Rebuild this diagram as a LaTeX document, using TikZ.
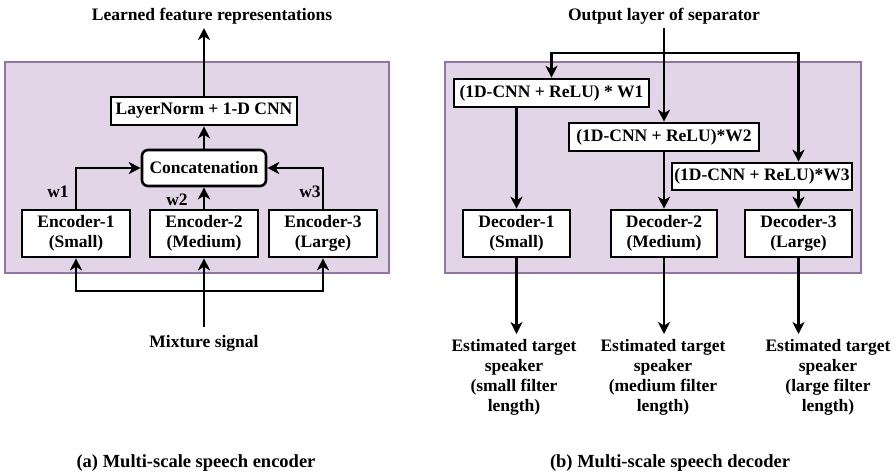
\documentclass[tikz,border=0pt]{standalone}
\usepackage{fontspec}
\setmainfont{Liberation Serif}
\usetikzlibrary{arrows.meta,calc}
\definecolor{panelfill}{HTML}{E1D5E7}
\definecolor{paneledge}{HTML}{9673A6}
\begin{document}
\begin{tikzpicture}[x=1pt,y=-1pt,
  every node/.style={font=\fontsize{17.5}{20}\selectfont\bfseries, inner sep=0pt},
  panel/.style={fill=panelfill, draw=paneledge, line width=2.4pt},
  blk/.style={draw, fill=white, line width=2.6pt, align=center},
  arr/.style={line width=2.6pt, -{Stealth[length=12pt,width=12pt,inset=3.5pt]}},
  txt/.style={align=center},
  captiontxt/.style={font=\fontsize{18.5}{22}\selectfont\bfseries}]
\useasboundingbox (0,0) rectangle (895,475);

% ---------- (a) encoder ----------
\draw[panel] (5,62) rectangle (389,273);
\node[blk, minimum width=186pt, minimum height=28pt] (lnorm) at (204,111) {LayerNorm + 1-D CNN};
\node[blk, rounded corners=6pt, minimum width=124pt, minimum height=36pt] (concat) at (204,168) {Concatenation};
\node[blk, minimum width=108pt, minimum height=47pt] (enc1) at (76,233.5) {Encoder-1\\(Small)};
\node[blk, minimum width=108pt, minimum height=47pt] (enc2) at (204,233.5) {Encoder-2\\(Medium)};
\node[blk, minimum width=108pt, minimum height=47pt] (enc3) at (323,233.5) {Encoder-3\\(Large)};
\node[txt] (learned) at (212,16) {Learned feature representations};
\node[txt] (mix) at (204,343) {Mixture signal};
\coordinate (split) at (204,291);

\draw[arr] (lnorm.north) -- (204,28);
\draw[arr] (concat.north) -- (lnorm.south);
\draw[arr] (enc1.north) |- (concat.west);
\draw[arr] (enc2.north) -- (concat.south);
\draw[arr] (enc3.north) |- (concat.east);
\node (w1) at (58,192) {w1};
\node (w2) at (177,200) {w2};
\node (w3) at (310,192) {w3};

\draw[arr] (204,327) -- (enc2.south);
\draw[arr] (split) -| (enc1.south);
\draw[arr] (split) -| (enc3.south);

\node[captiontxt] (capa) at (196,463) {(a) Multi-scale speech encoder};

% ---------- (b) decoder ----------
\draw[panel] (445,62) rectangle (861,273);
\node[txt] (sep) at (664,16) {Output layer of separator};
\node[blk, minimum width=195pt, minimum height=28pt] (cw1) at (551.5,93) {(1D-CNN + ReLU) * W1};
\node[blk, minimum width=190pt, minimum height=28pt] (cw2) at (664,137) {(1D-CNN + ReLU)*W2};
\node[blk, minimum width=180pt, minimum height=27pt] (cw3) at (762,176.5) {(1D-CNN + ReLU)*W3};
\node[blk, minimum width=107pt, minimum height=47pt] (dec1) at (516.5,233.5) {Decoder-1\\(Small)};
\node[blk, minimum width=106pt, minimum height=47pt] (dec2) at (664,233.5) {Decoder-2\\(Medium)};
\node[blk, minimum width=107pt, minimum height=47pt] (dec3) at (798.5,233.5) {Decoder-3\\(Large)};
\coordinate (fork) at (664,53);

\draw[arr] (664,28) -- (cw2.north);
\draw[arr] (fork) -| (cw1.north);
\draw[arr] (fork) -| (cw3.north -| dec3.north);
\draw[arr] (cw1.south -| dec1.north) -- (dec1.north);
\draw[arr] (cw2.south) -- (dec2.north);
\draw[arr] (cw3.south -| dec3.north) -- (dec3.north);

\node[txt, anchor=north] (est1) at (514,339) {Estimated target\\speaker\\(small filter\\length)};
\node[txt, anchor=north] (est2) at (663,339) {Estimated target\\speaker\\(medium filter\\length)};
\node[txt, anchor=north] (est3) at (828,339) {Estimated target\\speaker\\(large filter\\length)};
\draw[arr, shorten >=5pt] (dec1.south) -- (dec1.south |- est1.north);
\draw[arr, shorten >=5pt] (dec2.south) -- (dec2.south |- est2.north);
\draw[arr, shorten >=5pt] (dec3.south) -- (dec3.south |- est3.north);

\node[captiontxt] (capb) at (670,463) {(b) Multi-scale speech decoder};
\end{tikzpicture}
\end{document}
